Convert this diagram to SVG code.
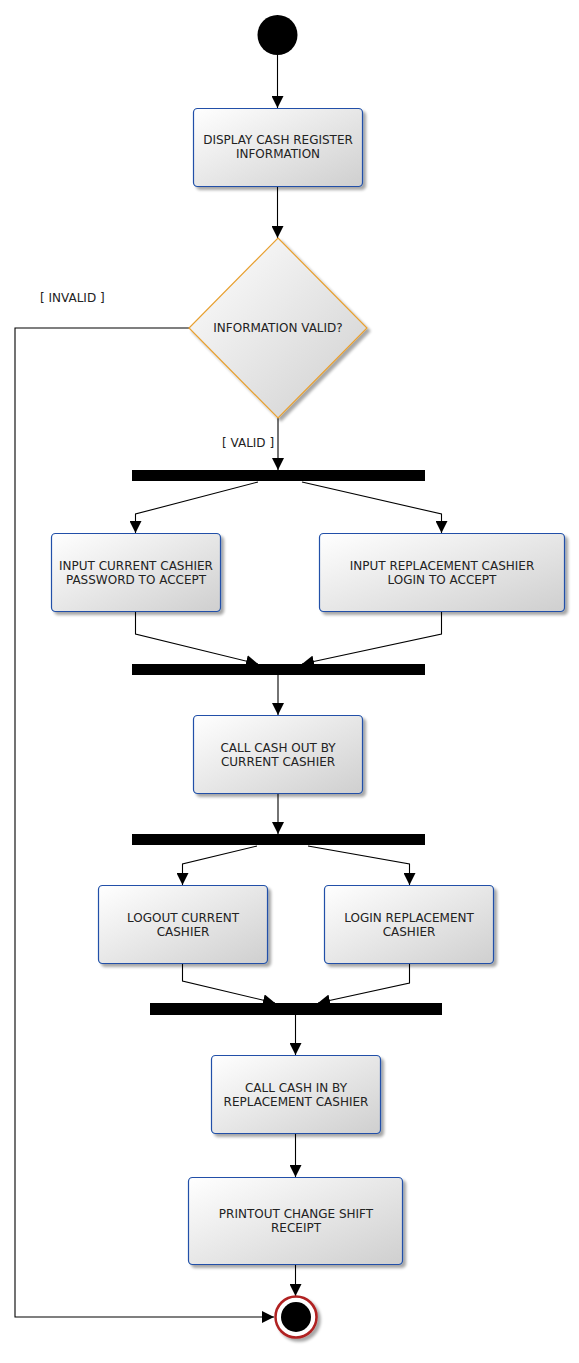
<svg xmlns="http://www.w3.org/2000/svg" width="579" height="1363" viewBox="0 0 579 1363">
<defs>
<linearGradient id="g" x1="0" y1="0" x2="1" y2="1">
<stop offset="0" stop-color="#ffffff"/>
<stop offset="1" stop-color="#cfcfcf"/>
</linearGradient>
<filter id="sh" x="-10%" y="-10%" width="130%" height="130%">
<feGaussianBlur in="SourceAlpha" stdDeviation="1.5"/>
<feOffset dx="3" dy="3" result="b"/>
<feComponentTransfer><feFuncA type="linear" slope="0.35"/></feComponentTransfer>
<feMerge><feMergeNode/><feMergeNode in="SourceGraphic"/></feMerge>
</filter>
<marker id="ah" markerUnits="userSpaceOnUse" markerWidth="12" markerHeight="12" viewBox="0 0 12 12" refX="12" refY="6" orient="auto">
<path d="M0,0 L12,6 L0,12 Z" fill="#000"/>
</marker>
</defs>
<style>
.box{fill:url(#g);stroke:#2050a8;stroke-width:1.2;filter:url(#sh)}
.dia{fill:url(#g);stroke:#e8a030;stroke-width:1.2;filter:url(#sh)}
.t{font-family:"DejaVu Sans",sans-serif;font-size:12px;fill:#222;text-anchor:middle}
.lbl{font-family:"DejaVu Sans",sans-serif;font-size:12px;fill:#222}
.c{fill:none;stroke:#000;stroke-width:1.1}
.ca{fill:none;stroke:#000;stroke-width:1.1;marker-end:url(#ah)}
.bar{fill:#000}
</style>
<g id="connectors">
<line class="ca" x1="277.5" y1="55" x2="277.5" y2="108"/>
<line class="ca" x1="277.5" y1="186" x2="277.5" y2="238"/>
<polyline class="ca" points="189,328 15,328 15,1317 274,1317"/>
<line class="ca" x1="278" y1="418" x2="278" y2="470"/>
<polyline class="ca" points="258,482 135.5,514 135.5,533"/>
<polyline class="ca" points="302,482 441.5,514 441.5,533"/>
<polyline class="ca" points="135.5,611 135.5,634 258,664"/>
<polyline class="ca" points="441.5,611 441.5,634 302,664"/>
<line class="ca" x1="278" y1="675" x2="278" y2="715"/>
<line class="ca" x1="278" y1="793" x2="278" y2="834"/>
<polyline class="ca" points="257,846 182.5,864 182.5,885"/>
<polyline class="ca" points="308,846 409.5,864 409.5,885"/>
<polyline class="ca" points="182.5,963 182.5,981 275,1003"/>
<polyline class="ca" points="409.5,963 409.5,983 318,1003"/>
<line class="ca" x1="295.5" y1="1015" x2="295.5" y2="1055"/>
<line class="ca" x1="295.5" y1="1133" x2="295.5" y2="1177"/>
<line class="ca" x1="295.5" y1="1264" x2="295.5" y2="1296"/>
<text class="lbl" x="40" y="302">[ INVALID ]</text>
<text class="lbl" x="222" y="447">[ VALID ]</text>
</g>
<g id="start"><circle cx="277.5" cy="35" r="20" fill="#000"/></g>
<g id="display"><rect class="box" x="193.5" y="108.5" width="169" height="78" rx="4"/>
<text class="t" x="278" y="144">DISPLAY CASH REGISTER</text><text class="t" x="278" y="158">INFORMATION</text></g>
<g id="decision"><polygon class="dia" points="278,238 367,328 278,418 189,328"/>
<text class="t" x="278" y="332">INFORMATION VALID?</text></g>
<g id="fork1"><rect class="bar" x="132" y="470" width="293" height="11"/></g>
<g id="inputCurrent"><rect class="box" x="51.5" y="533.5" width="169" height="78" rx="4"/>
<text class="t" x="136" y="570">INPUT CURRENT CASHIER</text><text class="t" x="136" y="584">PASSWORD TO ACCEPT</text></g>
<g id="inputReplacement"><rect class="box" x="319.5" y="533.5" width="245" height="78" rx="4"/>
<text class="t" x="442" y="570">INPUT REPLACEMENT CASHIER</text><text class="t" x="442" y="584">LOGIN TO ACCEPT</text></g>
<g id="join1"><rect class="bar" x="132" y="664" width="293" height="11"/></g>
<g id="cashOut"><rect class="box" x="193.5" y="715.5" width="169" height="78" rx="4"/>
<text class="t" x="278" y="752">CALL CASH OUT BY</text><text class="t" x="278" y="766">CURRENT CASHIER</text></g>
<g id="fork2"><rect class="bar" x="132" y="834" width="293" height="11"/></g>
<g id="logout"><rect class="box" x="98.5" y="885.5" width="169" height="78" rx="4"/>
<text class="t" x="183" y="922">LOGOUT CURRENT</text><text class="t" x="183" y="936">CASHIER</text></g>
<g id="login"><rect class="box" x="324.5" y="885.5" width="169" height="78" rx="4"/>
<text class="t" x="409" y="922">LOGIN REPLACEMENT</text><text class="t" x="409" y="936">CASHIER</text></g>
<g id="join2"><rect class="bar" x="150" y="1003" width="292" height="12"/></g>
<g id="cashIn"><rect class="box" x="211.5" y="1055.5" width="169" height="78" rx="4"/>
<text class="t" x="296" y="1092">CALL CASH IN BY</text><text class="t" x="296" y="1106">REPLACEMENT CASHIER</text></g>
<g id="printout"><rect class="box" x="188.5" y="1177.5" width="214" height="87" rx="4"/>
<text class="t" x="296" y="1218">PRINTOUT CHANGE SHIFT</text><text class="t" x="296" y="1232">RECEIPT</text></g>
<g id="end"><circle cx="296" cy="1317" r="20.5" fill="#fff" stroke="#b02020" stroke-width="2.5" filter="url(#sh)"/>
<circle cx="296" cy="1317" r="15" fill="#000"/></g>
</svg>
